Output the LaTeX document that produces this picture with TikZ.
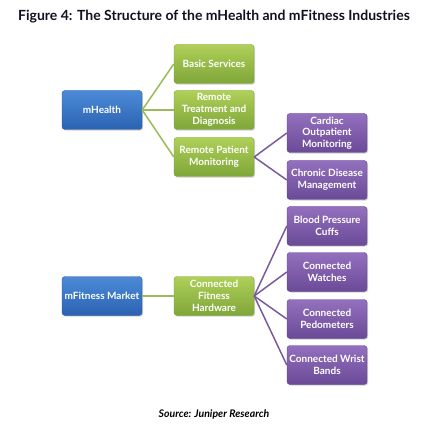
\documentclass[tikz,border=0pt]{standalone}
\usepackage{fontspec}
\setmainfont{Lato}
\usetikzlibrary{shadows}
\definecolor{bluetop}{HTML}{4C8BD8}
\definecolor{bluebot}{HTML}{2A62B2}
\definecolor{blueline}{HTML}{2F5A94}
\definecolor{greentop}{HTML}{AFD058}
\definecolor{greenbot}{HTML}{7FA63A}
\definecolor{greenline}{HTML}{7E9E3E}
\definecolor{purptop}{HTML}{9470BE}
\definecolor{purpbot}{HTML}{6A4A96}
\definecolor{purpline}{HTML}{5E4386}
\definecolor{glink}{HTML}{9BBB59}
\definecolor{plink}{HTML}{7A5C9E}
\definecolor{titlecol}{HTML}{111122}
\tikzset{
  box/.style={rounded corners=3pt, minimum width=80pt, minimum height=39pt,
    inner sep=0.5pt, align=center, text=white, font=\fontsize{10}{11.8}\selectfont\bfseries,
    drop shadow={shadow xshift=1.2pt, shadow yshift=-1.2pt, opacity=0.35}},
  bluebox/.style={box, draw=blueline, top color=bluetop, bottom color=bluebot},
  greenbox/.style={box, draw=greenline, top color=greentop, bottom color=greenbot},
  purpbox/.style={box, draw=purpline, top color=purptop, bottom color=purpbot},
  glinkst/.style={draw=glink, line width=1.5pt},
  plinkst/.style={draw=plink, line width=1.5pt},
}
\begin{document}
\begin{tikzpicture}[x=1pt,y=-1pt]
\useasboundingbox[fill=white] (0,0) rectangle (424,435);
\node[anchor=base, text=titlecol, font=\fontsize{14}{16}\selectfont\bfseries] (title) at (214,21) {Figure 4: The Structure of the mHealth and mFitness Industries};

\node[bluebox] (mh) at (102,110) {mHealth};
\node[greenbox] (bs) at (214,64) {Basic Services};
\node[greenbox] (rt) at (214,110) {Remote\\Treatment and\\Diagnosis};
\node[greenbox] (rp) at (214,157) {Remote Patient\\Monitoring};
\node[purpbox] (co) at (327,133) {Cardiac\\Outpatient\\Monitoring};
\node[purpbox] (cd) at (327,180) {Chronic Disease\\Management};

\node[bluebox] (mf) at (102,296) {mFitness Market};
\node[greenbox] (cf) at (214,296) {Connected\\Fitness\\Hardware};
\node[purpbox] (bp) at (327,226) {Blood Pressure\\Cuffs};
\node[purpbox] (cw) at (327,272) {Connected\\Watches};
\node[purpbox] (pe) at (327,319) {Connected\\Pedometers};
\node[purpbox] (wb) at (327,365) {Connected Wrist\\Bands};

\draw[glinkst] (mh.east) -- (bs.west);
\draw[glinkst] (mh.east) -- (rt.west);
\draw[glinkst] (mh.east) -- (rp.west);
\draw[plinkst] (rp.east) -- (co.west);
\draw[plinkst] (rp.east) -- (cd.west);
\draw[glinkst] (mf.east) -- (cf.west);
\draw[plinkst] (cf.east) -- (bp.west);
\draw[plinkst] (cf.east) -- (cw.west);
\draw[plinkst] (cf.east) -- (pe.west);
\draw[plinkst] (cf.east) -- (wb.west);

\node[anchor=base, font=\fontsize{10.5}{12}\selectfont\bfseries\itshape] (src) at (214,417) {Source: Juniper Research};
\end{tikzpicture}
\end{document}
